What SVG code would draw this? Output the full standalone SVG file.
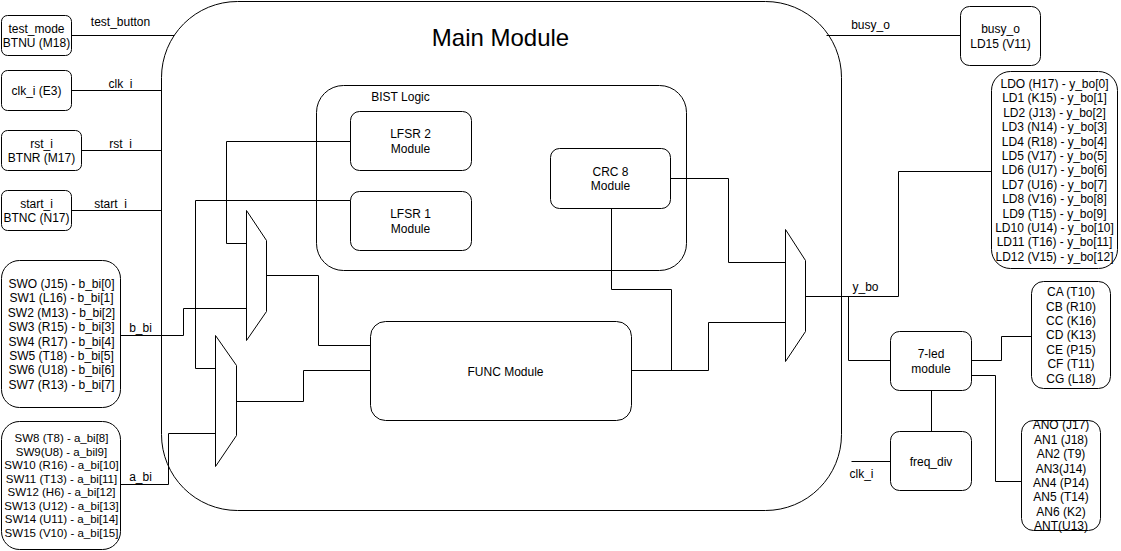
<svg xmlns="http://www.w3.org/2000/svg" width="1121" height="551" viewBox="0 0 1121 551">
<style>
.box{fill:#fff;stroke:#000;stroke-width:1}
.mux{fill:#fff;stroke:#000;stroke-width:1}
.w{fill:none;stroke:#000;stroke-width:1}
.t{font-family:"Liberation Sans",Arial,sans-serif;font-size:12px;fill:#000;text-anchor:middle}
.s{font-size:11.5px}
.title{font-size:24px}
</style>
<rect width="1121" height="551" fill="#fff"/>
<g transform="translate(0.5,0.5)">
<g id="main-module">
<rect class="box" x="161" y="1" width="680" height="509" rx="76" ry="76"/>
<text class="t title" x="500" y="45">Main Module</text>
</g>
<g id="bist-logic">
<rect class="box" x="316" y="85" width="370" height="185" rx="27" ry="27"/>
<text class="t" x="400" y="100">BIST Logic</text>
</g>
<g id="lfsr2">
<rect class="box" x="350" y="111" width="121" height="59" rx="9" ry="9"/>
<text class="t" x="410" y="137.5">LFSR 2</text>
<text class="t" x="410" y="152">Module</text>
</g>
<g id="lfsr1">
<rect class="box" x="350" y="191" width="121" height="59" rx="9" ry="9"/>
<text class="t" x="410" y="217.5">LFSR 1</text>
<text class="t" x="410" y="232">Module</text>
</g>
<g id="crc8">
<rect class="box" x="550" y="148" width="120" height="60" rx="9" ry="9"/>
<text class="t" x="610" y="175">CRC 8</text>
<text class="t" x="610" y="189.5">Module</text>
</g>
<g id="func">
<rect class="box" x="370" y="321" width="261" height="99" rx="15" ry="15"/>
<text class="t" x="505" y="375">FUNC Module</text>
</g>
<g id="mux1"><polygon class="mux" points="246,210 266,240 266,311 246,340"/></g>
<g id="mux2"><polygon class="mux" points="215,335 236,365 236,435 215,466"/></g>
<g id="mux3"><polygon class="mux" points="785,229 805,260 805,331 785,361"/></g>
<g id="test-mode">
<rect class="box" x="1" y="15" width="70" height="40" rx="6" ry="6"/>
<text class="t" x="36" y="32">test_mode</text>
<text class="t" x="36" y="46.5">BTNU (M18)</text>
</g>
<g id="clk-in">
<rect class="box" x="1" y="70" width="70" height="40" rx="6" ry="6"/>
<text class="t" x="36" y="94">clk_i (E3)</text>
</g>
<g id="rst-in">
<rect class="box" x="1" y="130" width="80" height="40" rx="6" ry="6"/>
<text class="t" x="41" y="147">rst_i</text>
<text class="t" x="41" y="161.5">BTNR (M17)</text>
</g>
<g id="start-in">
<rect class="box" x="1" y="190" width="70" height="40" rx="6" ry="6"/>
<text class="t" x="36" y="207">start_i</text>
<text class="t" x="36" y="221.5">BTNC (N17)</text>
</g>
<g id="sw-b">
<rect class="box" x="1" y="260" width="119" height="147" rx="18" ry="18"/>
<text class="t" x="61" y="287.4">SWO (J15) - b_bi[0]</text>
<text class="t" x="61" y="301.8">SW1 (L16) - b_bi[1]</text>
<text class="t" x="61" y="316.2">SW2 (M13) - b_bi[2]</text>
<text class="t" x="61" y="330.6">SW3 (R15) - b_bi[3]</text>
<text class="t" x="61" y="345">SW4 (R17) - b_bi[4]</text>
<text class="t" x="61" y="359.4">SW5 (T18) - b_bi[5]</text>
<text class="t" x="61" y="373.8">SW6 (U18) - b_bi[6]</text>
<text class="t" x="61" y="388.2">SW7 (R13) - b_bi[7]</text>
</g>
<g id="sw-a">
<rect class="box" x="1" y="421" width="119" height="128" rx="18" ry="18"/>
<text class="t s" x="61" y="441.9">SW8 (T8) - a_bi[8]</text>
<text class="t s" x="61" y="455.4">SW9(U8) - a_bil9]</text>
<text class="t s" x="61" y="468.9">SW10 (R16) - a_bi[10]</text>
<text class="t s" x="61" y="482.4">SW11 (T13) - a_bi[11]</text>
<text class="t s" x="61" y="495.9">SW12 (H6) - a_bi[12]</text>
<text class="t s" x="61" y="509.4">SW13 (U12) - a_bi[13]</text>
<text class="t s" x="61" y="522.9">SW14 (U11) - a_bi[14]</text>
<text class="t s" x="61" y="536.4">SW15 (V10) - a_bi[15]</text>
</g>
<g id="busy-out">
<rect class="box" x="960" y="6" width="80" height="59" rx="9" ry="9"/>
<text class="t" x="1000" y="32.5">busy_o</text>
<text class="t" x="1000" y="47">LD15 (V11)</text>
</g>
<g id="ld-out">
<rect class="box" x="991" y="71" width="126" height="197" rx="19" ry="19"/>
<text class="t" x="1054" y="87.4">LDO (H17) - y_bo[0]</text>
<text class="t" x="1054" y="101.8">LD1 (K15) - y_bo[1]</text>
<text class="t" x="1054" y="116.2">LD2 (J13) - y_bo[2]</text>
<text class="t" x="1054" y="130.6">LD3 (N14) - y_bo[3]</text>
<text class="t" x="1054" y="145">LD4 (R18) - y_bo[4]</text>
<text class="t" x="1054" y="159.4">LD5 (V17) - y_bo(5]</text>
<text class="t" x="1054" y="173.8">LD6 (U17) - y_bo[6]</text>
<text class="t" x="1054" y="188.2">LD7 (U16) - y_bo[7]</text>
<text class="t" x="1054" y="202.6">LD8 (V16) - y_bo[8]</text>
<text class="t" x="1054" y="217">LD9 (T15) - y_bo[9]</text>
<text class="t" x="1054" y="231.4">LD10 (U14) - y_bo[10]</text>
<text class="t" x="1054" y="245.8">LD11 (T16) - y_bo[11]</text>
<text class="t" x="1054" y="260.2">LD12 (V15) - y_bo[12]</text>
</g>
<g id="seven-led">
<rect class="box" x="890" y="331" width="81" height="59" rx="9" ry="9"/>
<text class="t" x="930.5" y="357.5">7-led</text>
<text class="t" x="930.5" y="372">module</text>
</g>
<g id="freq-div">
<rect class="box" x="890" y="431" width="81" height="59" rx="9" ry="9"/>
<text class="t" x="930.5" y="465">freq_div</text>
</g>
<g id="seg-out">
<rect class="box" x="1031" y="281" width="79" height="107" rx="12" ry="12"/>
<text class="t" x="1070.5" y="295.6">CA (T10)</text>
<text class="t" x="1070.5" y="310">CB (R10)</text>
<text class="t" x="1070.5" y="324.4">CC (K16)</text>
<text class="t" x="1070.5" y="338.8">CD (K13)</text>
<text class="t" x="1070.5" y="353.2">CE (P15)</text>
<text class="t" x="1070.5" y="367.6">CF (T11)</text>
<text class="t" x="1070.5" y="382">CG (L18)</text>
</g>
<g id="an-out">
<rect class="box" x="1021" y="420" width="79" height="110" rx="12" ry="12"/>
<text class="t" x="1060.5" y="428.9">ANO (J17)</text>
<text class="t" x="1060.5" y="443.3">AN1 (J18)</text>
<text class="t" x="1060.5" y="457.7">AN2 (T9)</text>
<text class="t" x="1060.5" y="472.1">AN3(J14)</text>
<text class="t" x="1060.5" y="486.5">AN4 (P14)</text>
<text class="t" x="1060.5" y="500.9">AN5 (T14)</text>
<text class="t" x="1060.5" y="515.3">AN6 (K2)</text>
<text class="t" x="1060.5" y="529.7">ANT(U13)</text>
</g>
<g id="connectors">
<path class="w" d="M71,35 H174"/>
<path class="w" d="M71,90 H161"/>
<path class="w" d="M81,150 H161"/>
<path class="w" d="M71,210 H161"/>
<path class="w" d="M120,335 H183 V308 H246"/>
<path class="w" d="M120,484 H168 V433 H215"/>
<path class="w" d="M350,141 H226 V243 H246"/>
<path class="w" d="M350,200 H195 V368 H215"/>
<path class="w" d="M266,275 H318 V345 H370"/>
<path class="w" d="M236,401 H303 V370 H370"/>
<path class="w" d="M670,178 H728 V262 H785"/>
<path class="w" d="M611,208 V289 H671 V370"/>
<path class="w" d="M631,370 H708 V322 H785"/>
<path class="w" d="M805,296 H898 V171 H991"/>
<path class="w" d="M848,296 V360 H890"/>
<path class="w" d="M826,35 H960"/>
<path class="w" d="M971,360 H1001 V336 H1031"/>
<path class="w" d="M971,375 H995 V481 H1021"/>
<path class="w" d="M931,390 V431"/>
<path class="w" d="M851,461 H890"/>
<text class="t" x="120" y="25">test_button</text>
<text class="t" x="120" y="87">clk_i</text>
<text class="t" x="120" y="147">rst_i</text>
<text class="t" x="110" y="207">start_i</text>
<text class="t" x="140" y="331">b_bi</text>
<text class="t" x="140" y="480">a_bi</text>
<text class="t" x="870" y="28">busy_o</text>
<text class="t" x="865" y="290">y_bo</text>
<text class="t" x="861" y="477">clk_i</text>
</g>
</g>
</svg>
